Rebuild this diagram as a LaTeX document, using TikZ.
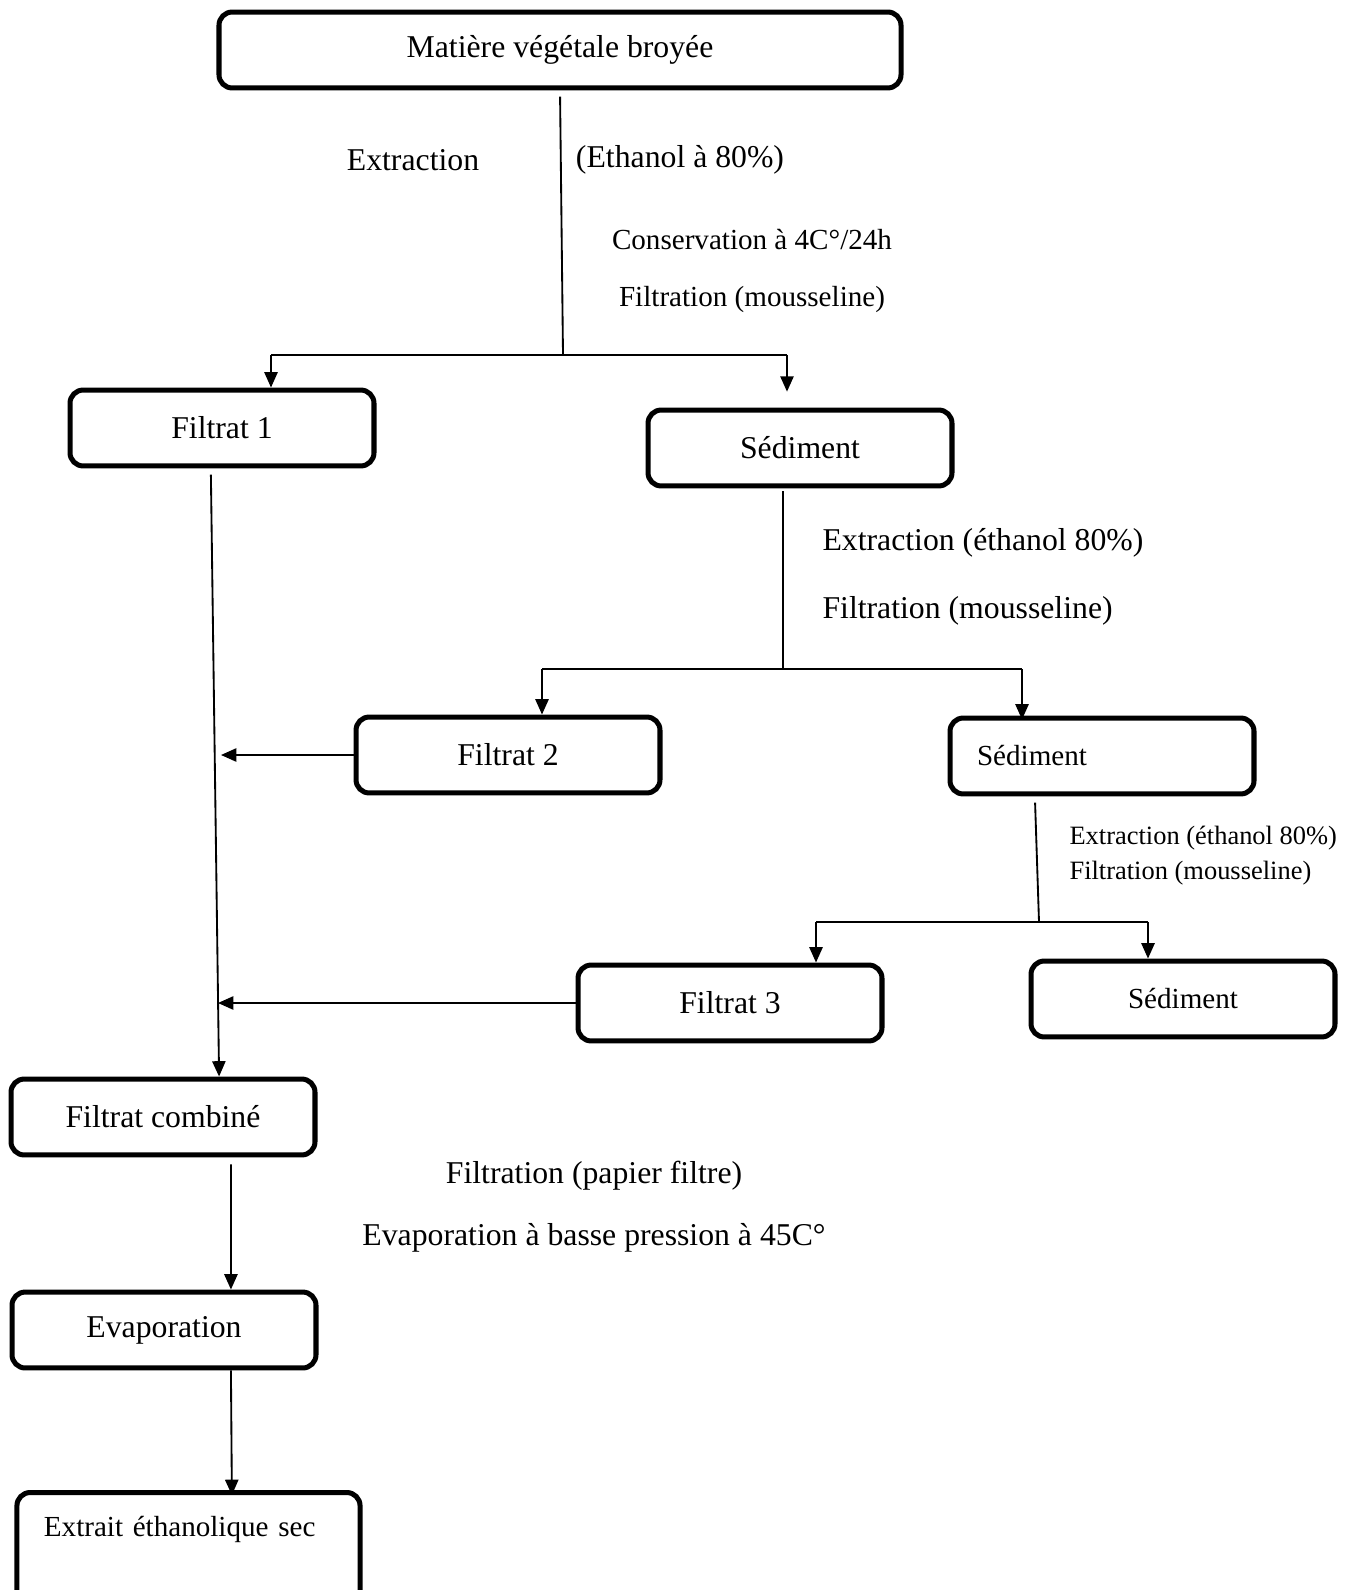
\documentclass[tikz,border=0pt]{standalone}
\usepackage{fontspec}
\setmainfont{Liberation Serif}
\usetikzlibrary{arrows.meta}

\begin{document}
\begin{tikzpicture}[x=0.378pt, y=-0.378pt,
  box/.style = {shape=rectangle, rounded corners=5pt, draw, line width=1.9pt,
    minimum width=114.9pt, minimum height=28.7pt, inner sep=0pt,
    font=\fontsize{12}{14}\selectfont},
  link/.style = {line width=0.7pt},
  arr/.style = {link, -{Triangle[length=5.8pt,width=5pt]}},
  note/.style = {inner sep=0pt, font=\fontsize{12}{14}\selectfont}]
  \useasboundingbox (0,0) rectangle (1347,1590);
  \clip (0,0) rectangle (1347,1590);

  \node[box, minimum width=257.8pt] (mat) at (560,50) {Matière végétale broyée};
  \node[box] (f1) at (222,428) {Filtrat 1};
  \node[box] (s1) at (800,448) {Sédiment};
  \node[box] (f2) at (508,755) {Filtrat 2};
  \node[box, font=\fontsize{11}{13}\selectfont, text width=94.5pt, align=left] (s2) at (1102,756) {Sédiment};
  \node[box] (f3) at (730,1003) {Filtrat 3};
  \node[box, font=\fontsize{11}{13}\selectfont] (s3) at (1183,999) {Sédiment};
  \node[box] (fc) at (163,1117) {Filtrat combiné};
  \node[box] (ev) at (164,1330) {Evaporation};
  \node[box, anchor=north, minimum width=129.7pt, minimum height=0pt, text width=109.3pt,
    align=left, text height=16.6pt, text depth=28.7pt, font=\fontsize{11}{13}\selectfont]
    (ex) at (188.5,1490) {Extrait éthanolique sec};

  \node[note] (extr) at (413,160) {Extraction};
  \node[note] (eth) at (680,160) {(Ethanol à 80\%)};
  \node[note, font=\fontsize{11}{13}\selectfont] (cons) at (752,240) {Conservation à 4C°/24h};
  \node[note, font=\fontsize{11}{13}\selectfont] (fila) at (752,300) {Filtration (mousseline)};
  \node[note, anchor=west] (extb) at (822,543) {Extraction (éthanol 80\%)};
  \node[note, anchor=west] (filb) at (822,611) {Filtration (mousseline)};
  \node[note, anchor=west, font=\fontsize{10}{12}\selectfont] (extc) at (1069,838) {Extraction (éthanol 80\%)};
  \node[note, anchor=west, font=\fontsize{10}{12}\selectfont] (filc) at (1069,873) {Filtration (mousseline)};
  \node[note] (pap) at (594,1176) {Filtration (papier filtre)};
  \node[note] (bas) at (594,1238) {Evaporation à basse pression à 45C°};

  \coordinate (j1) at (563,355);
  \coordinate (j1l) at (271,355);
  \coordinate (j1r) at (787,355);
  \coordinate (j2) at (783,669);
  \coordinate (j2l) at (542,669);
  \coordinate (j2r) at (1022,669);
  \coordinate (j3) at (1039,922);
  \coordinate (j3l) at (816,922);
  \coordinate (j3r) at (1148,922);
  \coordinate (m2) at (221,756);
  \coordinate (m3) at (218,1001);

  \draw[link, shorten <=2.3pt] (mat.south) -- (j1);
  \draw[link] (j1l) -- (j1r);
  \draw[arr] (j1l) -- (j1l |- f1.north);
  \draw[arr, shorten >=6pt] (j1r) -- (j1r |- s1.north);
  \draw[arr] ([xshift=-4.2pt,yshift=-2.3pt]f1.south) -- ([xshift=21.2pt]fc.north);

  \draw[link, shorten <=1.1pt] (s1.south -| j2) -- (j2);
  \draw[link] (j2l) -- (j2r);
  \draw[arr] (j2l) -- (j2l |- f2.north);
  \draw[arr, shorten >=-1.5pt] (j2r) -- (j2r |- s2.north);
  \draw[arr] (f2.west) -- (m2 |- f2.west);

  \draw[link] ([xshift=-25.3pt,yshift=-2.3pt]s2.south) -- (j3);
  \draw[link] (j3l) -- (j3r);
  \draw[arr] (j3l) -- (j3l |- f3.north);
  \draw[arr] (j3r) -- (j3r |- s3.north);
  \draw[arr] (f3.west) -- (m3 |- f3.west);

  \draw[arr] ([xshift=25.7pt,yshift=-2.6pt]fc.south) -- ([xshift=25.3pt]ev.north);
  \draw[arr] ([xshift=25.3pt]ev.south) -- ([xshift=16.4pt,yshift=-1.9pt]ex.north);
\end{tikzpicture}
\end{document}
